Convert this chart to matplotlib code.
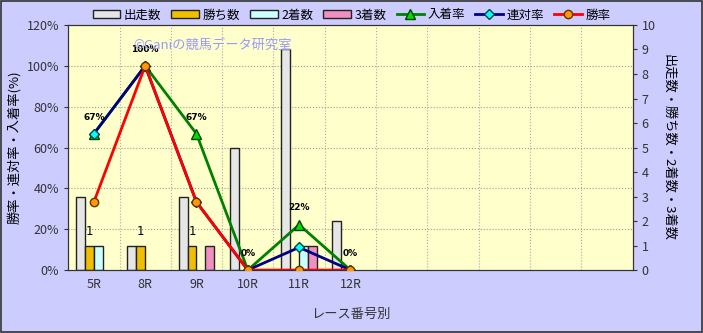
import matplotlib.pyplot as plt
import numpy as np
from matplotlib.patches import Rectangle, Patch

plt.rcParams['font.family'] = ['Noto Sans CJK JP', 'DejaVu Sans']

races = ["5R", "8R", "9R", "10R", "11R", "12R", "", "", "", "", ""]
starts = [3, 1, 3, 5, 9, 2]
wins = [1, 1, 1, 0, 0, 0]
seconds = [1, 0, 0, 0, 1, 0]
thirds = [0, 0, 1, 0, 1, 0]
win_rate = [33.3, 100, 33.3, 0, 0, 0]
rentai_rate = [66.7, 100, 33.3, 0, 11.1, 0]
place_rate = [66.7, 100, 66.7, 0, 22.2, 0]
place_labels = ["67%", "100%", "67%", "0%", "22%", "0%"]

fig = plt.figure(figsize=(7.03, 3.33), dpi=100, facecolor="#CCCCFF")
fig.patches.append(Rectangle((0.001, 0.002), 0.997, 0.995, transform=fig.transFigure,
                             fill=False, edgecolor="#333333", linewidth=1.2))
ax = fig.add_axes([0.097, 0.189, 0.803, 0.736])
ax2 = ax.twinx()
ax2.patch.set_facecolor("#FFFFCC")
ax2.patch.set_visible(True)

n = len(races)
x = np.arange(len(starts))
w = 0.175

# grid (drawn on the bar axes so it sits behind the bars)
for xv in np.arange(0.5, n - 0.5, 1):
    ax2.axvline(xv, linestyle=":", color="#AAAAAA", linewidth=0.8, zorder=1)
for yv in range(20, 121, 20):
    ax2.axhline(yv / 12, linestyle=":", color="#999999", linewidth=0.8, zorder=1)

bar_specs = [(starts, "#E6E6E6", "出走数", -1.5), (wins, "#F0C000", "勝ち数", -0.5),
             (seconds, "#CCFFFF", "2着数", 0.5), (thirds, "#F090C0", "3着数", 1.5)]
bar_handles = []
for vals, col, lab, off in bar_specs:
    lws = [1.0 if v > 0 else 0 for v in vals]
    ax2.bar(x + off * w, vals, w, color=col, edgecolor="#222222", linewidth=lws, zorder=2)
    bar_handles.append(Patch(facecolor=col, edgecolor="#222222", linewidth=1.0))
for i, v in enumerate(wins):
    if v > 0:
        ax2.text(x[i] - 0.5 * w, v + 0.3, str(v), ha="center", va="bottom", fontsize=8.5,
                 family="DejaVu Sans")

ax2.set_ylim(0, 10)
ax2.set_yticks(range(0, 11))
ax2.set_ylabel("出走数・勝ち数・2着数・3着数", rotation=270, labelpad=14, fontsize=9.5)

# lines on top of bars
ax.set_zorder(ax2.get_zorder() + 1)
ax.patch.set_visible(False)

l1, = ax.plot(x, place_rate, color="#008000", linewidth=2, marker="^", markersize=7,
              markerfacecolor="#00DD00", markeredgecolor="#004400", zorder=3)
l2, = ax.plot(x, rentai_rate, color="#000080", linewidth=2, marker="D", markersize=5,
              markerfacecolor="#00FFFF", markeredgecolor="#004444", zorder=4)
l3, = ax.plot(x, win_rate, color="#FF0000", linewidth=2, marker="o", markersize=6,
              markerfacecolor="#FF9900", markeredgecolor="#663300", zorder=5)
for i, t in enumerate(place_labels):
    ax.text(x[i], place_rate[i] + 6, t, ha="center", va="bottom", fontsize=6.5,
            fontweight="bold", family="DejaVu Sans", zorder=6)

ax.set_xlim(-0.5, n - 0.5)
ax.set_ylim(0, 120)
ax.set_yticks(range(0, 121, 20))
ax.set_yticklabels([f"{v}%" for v in range(0, 121, 20)])
ax.set_xticks(range(n))
ax.set_xticklabels(races)
ax.tick_params(axis="x", which="both", length=0, pad=6)
ax.tick_params(axis="y", labelsize=9, colors="#333333", length=3)
ax.tick_params(axis="x", labelsize=9, colors="#333333")
ax2.tick_params(axis="y", labelsize=9, colors="#333333", length=3)
ax.set_ylabel("勝率・連対率・入着率(%)", fontsize=9.5, labelpad=4)
ax.set_xlabel("レース番号別", fontsize=9.5, labelpad=12, color="#333333")
for a in (ax, ax2):
    for s in a.spines.values():
        s.set_color("#333333")

ax.text(0.115, 0.915, "©Ganiの競馬データ研究室", transform=ax.transAxes, fontsize=9.5,
        color="#9999FF", ha="left", va="center", zorder=7)

handles = bar_handles + [l1, l2, l3]
labels = ["出走数", "勝ち数", "2着数", "3着数", "入着率", "連対率", "勝率"]
fig.legend(handles, labels, loc="center", bbox_to_anchor=(0.5, 0.955), ncol=7,
           frameon=False, fontsize=9, handlelength=2.2, handleheight=0.5,
           columnspacing=0.8, handletextpad=0.3)

fig.savefig("out.png", dpi=100, facecolor=fig.get_facecolor())
